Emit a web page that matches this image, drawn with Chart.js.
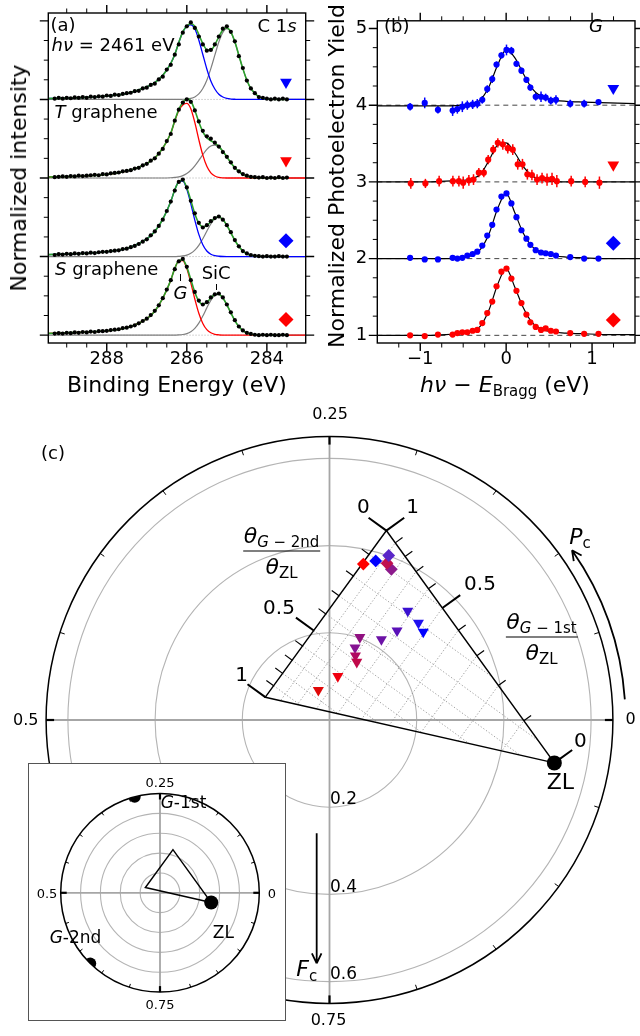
<!DOCTYPE html>
<html>
<head>
<meta charset="utf-8">
<title>C 1s XSW analysis</title>
<script src="https://cdn.jsdelivr.net/npm/chart.js@4.4.1/dist/chart.umd.min.js"></script>
<style>
  html, body { margin:0; padding:0; background:#fff; }
  #fig { position:relative; width:640px; height:1036px; overflow:hidden; font-family:'DejaVu Sans', sans-serif; color:#000; }
  #fig canvas { position:absolute; }
  .lbl { position:absolute; transform:translate(-50%,-50%); white-space:nowrap; line-height:1; }
  .lbl sub { font-size:0.68em; position:relative; top:0.3em; vertical-align:baseline; line-height:0; }
  .frac { display:flex; flex-direction:column; align-items:center; }
  .frac .num { border-bottom:1.5px solid #000; padding:0 1px 4px; }
  .frac .den { padding-top:4px; }
  .mark { position:absolute; width:1.2px; background:#000; }
  #inset { position:absolute; left:27.5px; top:763px; width:258px; height:258px; box-sizing:border-box; border:1.5px solid #555; background:#fff; }
</style>
</head>
<body>
<div id="fig">
  <canvas id="panelA" width="320" height="400" style="left:0;top:0"></canvas>
  <canvas id="panelB" width="320" height="400" style="left:320px;top:0"></canvas>
  <canvas id="panelC" width="640" height="636" style="left:0;top:400px"></canvas>
  <div id="inset"><canvas id="panelInset" width="255" height="255" style="left:0;top:0"></canvas></div>
</div>
<script>
Chart.defaults.font.family = "'DejaVu Sans', sans-serif";
Chart.defaults.color = '#000';

// ---- Panel (a): C 1s spectra (top to bottom) ----
const bindingEnergy = [289.3,289.2,289.1,289.0,288.9,288.8,288.7,288.6,288.5,288.4,288.3,288.2,288.1,288.0,287.9,287.8,287.7,287.6,287.5,287.4,
  287.3,287.2,287.1,287.0,286.9,286.8,286.7,286.6,286.5,286.4,286.3,286.2,286.1,286.0,285.9,285.8,285.7,285.6,285.5,285.4,
  285.3,285.2,285.1,285.0,284.9,284.8,284.7,284.6,284.5,284.4,284.3,284.2,284.1,284.0,283.9,283.8,283.7,283.6,283.5];
const c1sDots1 = [.01,.02,.01,.02,.015,.025,.02,.03,.02,.035, .03,.04,.035,.05,.045,.06,.055,.07,.08,.085,
  .105,.11,.14,.15,.185,.20,.255,.29,.38,.44, .57,.70,.85,.93,.98,.91,.80,.70,.62,.63,
  .70,.80,.90,.93,.86,.74,.55,.40,.24,.14, .08,.03,.02,.01,0,.01,0,.01,0];
const c1sDots2 = [.01,.015,.02,.015,.025,.02,.03,.025,.03,.035, .04,.035,.05,.045,.06,.065,.07,.085,.09,.10,
  .12,.13,.16,.18,.22,.25,.31,.37,.47,.56, .73,.87,.96,1.0,.97,.86,.72,.60,.53,.50,
  .45,.40,.33,.27,.20,.13,.085,.05,.03,.015, .01,.005,.01,0,.005,0,.01,0,.005];
const c1sDots3 = [.02,.03,.025,.035,.03,.04,.035,.045,.04,.05, .045,.055,.06,.06,.07,.075,.08,.095,.10,.12,
  .135,.16,.19,.22,.27,.32,.39,.47,.58,.70, .84,.95,.98,.88,.71,.55,.43,.37,.40,.45,
  .49,.51,.47,.40,.31,.21,.13,.07,.04,.02, .01,.005,0,.005,0,0,.005,0,0];
const c1sDots4 = [.02,.025,.02,.03,.025,.035,.03,.04,.035,.045, .04,.05,.05,.055,.065,.07,.075,.09,.095,.11,
  .125,.15,.18,.21,.255,.31,.38,.47,.58,.70, .84,.94,.97,.87,.70,.55,.44,.39,.42,.48,
  .52,.53,.48,.39,.29,.19,.11,.06,.03,.015, .005,0,.005,0,.005,0,0,.005,0];

const bindingEnergyFit = [289.46,289.0,288.5,288.0,287.5,287.0,286.8,286.6,286.4,286.3,286.2,286.1,286.0,285.9,285.8,285.7,285.6,
  285.5,285.4,285.3,285.2,285.1,285.0,284.9,284.8,284.7,284.6,284.5,284.4,284.2,284.0,283.5,283.03];
const c1sFit1 = [.012,.016,.026,.043,.077,.16,.215,.306,.46,.572,.725,.86,.935,.963,.932,.826,.711,.633,.627,.696,.797,.885,.912,.859,.733,.563,.392,.245,.139,.032,.005,0,0];
const c1sG1   = [.012,.016,.026,.043,.077,.16,.215,.306,.46,.572,.725,.858,.93,.95,.90,.756,.572,.388,.235,.133,.066,.031,.012,.005,.002,0,0,0,0,0,0,0,0];
const c1sSiC1 = [0,0,0,0,0,0,0,0,0,0,0,.002,.005,.013,.032,.07,.139,.245,.392,.563,.731,.854,.90,.854,.731,.563,.392,.245,.139,.032,.005,0,0];
const c1sFit2 = [.013,.018,.028,.046,.088,.185,.255,.38,.573,.732,.874,.96,1.007,.98,.862,.712,.588,.514,.474,.444,.403,.342,.269,.194,.131,.081,.045,.023,.011,.002,0,0,0];
const c1sG2   = [.013,.018,.028,.046,.088,.185,.255,.38,.57,.725,.86,.93,.95,.882,.707,.488,.291,.149,.066,.025,.008,.002,0,0,0,0,0,0,0,0,0,0,0];
const c1sSiC2 = [0,0,0,0,0,0,0,0,.003,.007,.014,.03,.057,.098,.155,.224,.297,.365,.408,.419,.395,.34,.269,.194,.131,.081,.045,.023,.011,.002,0,0,0];
const c1sFit3 = [.025,.033,.043,.062,.105,.225,.32,.475,.70,.85,.953,.968,.875,.714,.546,.425,.378,.394,.444,.491,.504,.471,.398,.303,.208,.129,.072,.036,.016,.002,0,0,0];
const c1sG3   = [.025,.033,.043,.062,.105,.225,.32,.475,.70,.85,.95,.96,.856,.672,.464,.282,.151,.071,.03,.011,.004,.001,0,0,0,0,0,0,0,0,0,0,0];
const c1sSiC3 = [0,0,0,0,0,0,0,0,0,0,.003,.008,.019,.042,.082,.143,.227,.323,.414,.48,.50,.47,.398,.303,.208,.129,.072,.036,.016,.002,0,0,0];
const c1sFit4 = [.022,.03,.04,.055,.095,.21,.305,.47,.70,.85,.948,.958,.866,.708,.545,.431,.392,.417,.473,.517,.521,.474,.388,.284,.186,.109,.057,.027,.011,.001,0,0,0];
const c1sG4   = [.022,.03,.04,.055,.095,.21,.305,.47,.70,.85,.945,.95,.847,.665,.46,.279,.149,.07,.03,.011,.004,.001,0,0,0,0,0,0,0,0,0,0,0];
const c1sSiC4 = [0,0,0,0,0,0,0,0,0,0,.003,.008,.019,.043,.085,.152,.243,.347,.443,.506,.517,.473,.388,.284,.186,.109,.057,.027,.011,.001,0,0,0];

const spectrumOffsets = [3, 2, 1, 0];
const spectrumColors = ['#0000ff', '#ff0000', '#0000ff', '#ff0000'];
const spectrumSymbols = ['triangle', 'triangle', 'rectRot', 'rectRot'];

const xMajorA = [284, 286, 288];
const xMinorA = [283.5, 284.5, 285, 285.5, 286.5, 287, 287.5, 288.5, 289];
const yMajorA = [0, 1, 2, 3, 4];
const yMinorA = [0.25,0.5,0.75,1.25,1.5,1.75,2.25,2.5,2.75,3.25,3.5,3.75];

// ---- Panel (b): G photoelectron yield vs hv - E_Bragg ----
const braggX1 = [-1.118,-0.948,-0.794,-0.623,-0.568,-0.51,-0.452,-0.39,-0.336,-0.278,-0.22,-0.162,-0.112,-0.055,0.004,0.061,0.12,0.178,0.236,0.282,0.344,0.406,0.46,0.52,0.58,0.746,0.908,1.075];
const braggX2 = [-1.11,-0.94,-0.78,-0.62,-0.55,-0.5,-0.434,-0.38,-0.318,-0.26,-0.209,-0.151,-0.097,-0.039,0.019,0.077,0.135,0.19,0.247,0.30,0.36,0.418,0.476,0.534,0.59,0.757,0.92,1.086];
const yield1 = [0.98,1.03,0.94,0.93,0.95,0.98,1.0,1.01,1.02,1.07,1.21,1.34,1.53,1.65,1.72,1.71,1.54,1.45,1.33,1.23,1.11,1.11,1.10,1.06,1.07,1.02,1.02,1.04];
const yieldErr1 = [.05,.07,.05,.07,.06,.07,.06,.06,.06,.05,.05,.05,.04,.04,.07,.05,.04,.04,.04,.04,.05,.07,.05,.05,.06,.05,.05,.03];
const yield2 = [0.98,0.98,1.01,1.01,1.01,0.99,1.02,1.03,1.12,1.12,1.29,1.42,1.51,1.49,1.44,1.42,1.23,1.23,1.10,1.09,1.03,1.05,1.03,1.04,1.01,1.01,1.0,0.99];
const yieldErr2 = [.07,.06,.07,.07,.07,.08,.07,.07,.06,.06,.06,.06,.06,.07,.07,.07,.07,.07,.07,.07,.07,.07,.08,.08,.08,.07,.07,.08];
const yield3 = [1.01,0.99,0.99,1.01,1.0,1.01,1.04,1.06,1.09,1.17,1.30,1.44,1.64,1.81,1.85,1.72,1.54,1.37,1.26,1.18,1.11,1.08,1.07,1.06,1.04,1.02,1.0,1.0];
const yieldErr3 = [.02,.02,.02,.03,.02,.02,.02,.02,.02,.02,.02,.03,.02,.02,.02,.02,.02,.02,.02,.02,.03,.02,.02,.02,.02,.02,.02,.02];
const yield4 = [1.0,0.99,1.01,1.01,1.03,1.04,1.04,1.06,1.07,1.16,1.29,1.44,1.64,1.83,1.87,1.74,1.58,1.42,1.27,1.17,1.11,1.07,1.09,1.06,1.05,1.03,1.02,1.02];
const yieldErr4 = [.02,.02,.02,.02,.02,.02,.02,.02,.02,.02,.02,.02,.02,.03,.02,.02,.02,.02,.03,.02,.02,.02,.02,.02,.02,.02,.02,.02];
const braggXFit = [-1.5,-1.2,-0.9,-0.7,-0.5,-0.4,-0.3,-0.2,-0.1,0,0.1,0.2,0.3,0.4,0.5,0.7,0.9,1.2,1.5];
const yieldFit1 = [0.99,0.99,0.99,0.99,1.0,1.02,1.07,1.24,1.52,1.72,1.62,1.41,1.22,1.12,1.08,1.05,1.04,1.03,1.02];
const yieldFit2 = [1.0,1.0,1.0,1.01,1.02,1.04,1.1,1.28,1.48,1.51,1.38,1.2,1.08,1.03,1.01,1.0,1.0,1.0,1.0];
const yieldFit3 = [1.0,1.0,1.0,1.0,1.01,1.04,1.12,1.32,1.65,1.85,1.6,1.33,1.16,1.09,1.05,1.02,1.01,1.0,1.0];
const yieldFit4 = [1.0,1.0,1.0,1.01,1.03,1.05,1.12,1.33,1.66,1.87,1.63,1.36,1.17,1.09,1.05,1.03,1.02,1.01,1.01];

const xMajorB = [-1, 0, 1];
const xMinorB = [-1.25,-0.75,-0.5,-0.25,0.25,0.5,0.75,1.25];
const yMajorB = [1, 2, 3, 4, 5];
const yMinorB = [1.25,1.5,1.75,2.25,2.5,2.75,3.25,3.5,3.75,4.25,4.5,4.75];

// ---- Panel (c): coherent fraction F_c (radius) and position P_c (angle) ----
const componentNames = ['ZL', 'G-1st', 'G-2nd'];
const componentFc = [0.525, 1, 1];
const componentPc = [0.970, 0.291, 0.626];
const diamondFc = [0.366, 0.380, 0.3735, 0.383, 0.401];
const diamondPc = [0.216, 0.205, 0.188, 0.194, 0.195];
const diamondColors = ['#ff0000', '#0000ff', '#8c1a8c', '#c0104e', '#5a26c8'];
const triangleFc = [0.308, 0.302, 0.295, 0.257, 0.220, 0.202, 0.176, 0.159, 0.147, 0.102, 0.073];
const trianglePc = [0.151, 0.132, 0.120, 0.147, 0.159, 0.194, 0.196, 0.189, 0.180, 0.220, 0.307];
const triangleColors = ['#3a10d0', '#2010f0', '#0000ff', '#5a10b8', '#6c12a6', '#901080', '#861392', '#b00a60', '#c0084a', '#f00010', '#e00808'];
const ringsMain = [0.2, 0.4, 0.6];
const ringsInset = [0.2, 0.4, 0.6, 0.8];
const phaseTicks = [0,0.05,0.1,0.15,0.2,0.25,0.3,0.35,0.4,0.45,0.5,0.55,0.6,0.65,0.7,0.75,0.8,0.85,0.9,0.95];
const phaseMajor = [0, 0.25, 0.5, 0.75];
const ratioTicks = [0,0.1,0.2,0.3,0.4,0.5,0.6,0.7,0.8,0.9,1];
const ratioMajor = [0, 0.5, 1];

// ---- helpers ----
const TAU = 2 * Math.PI;
const toXY = (fc, pc) => ({x: fc * Math.cos(TAU * pc), y: fc * Math.sin(TAU * pc)});
const [zlXY, g1XY, g2XY] = componentFc.map((f, i) => toXY(f, componentPc[i]));
// (ZL + a*G1 + b*G2)/(1+a+b), a = theta_G1/theta_ZL, b = theta_G2/theta_ZL
function mixPoint(a, b) {
  const w = 1 + a + b;
  return {x: (zlXY.x + a * g1XY.x + b * g2XY.x) / w, y: (zlXY.y + a * g1XY.y + b * g2XY.y) / w};
}
const triangleOutline = [mixPoint(0, 0), mixPoint(1, 0), mixPoint(1, 1), mixPoint(0, 0)];

function boxTicks(t) {
  return {
    id: 'boxTicks',
    afterDraw(chart) {
      const {ctx, chartArea: a, scales: {x, y}} = chart;
      ctx.save();
      ctx.strokeStyle = '#000';
      ctx.lineWidth = 1.4;
      ctx.strokeRect(a.left, a.top, a.right - a.left, a.bottom - a.top);
      const marks = (vals, len, w, horiz) => {
        ctx.lineWidth = w;
        ctx.beginPath();
        vals.forEach(v => {
          if (horiz) {
            const p = x.getPixelForValue(v);
            ctx.moveTo(p, a.bottom); ctx.lineTo(p, a.bottom + len);
            ctx.moveTo(p, a.top); ctx.lineTo(p, a.top - len);
          } else {
            const p = y.getPixelForValue(v);
            ctx.moveTo(a.left, p); ctx.lineTo(a.left - len, p);
            ctx.moveTo(a.right, p); ctx.lineTo(a.right + len, p);
          }
        });
        ctx.stroke();
      };
      marks(t.xMajor, 8, 1.4, true); marks(t.xMinor, 4.5, 1, true);
      marks(t.yMajor, 8.5, 1.4, false); marks(t.yMinor, 4.5, 1, false);
      ctx.restore();
    }
  };
}

function levelLines(levels, color, dash, width) {
  return {
    id: 'levelLines',
    beforeDatasetsDraw(chart) {
      const {ctx, chartArea: a, scales: {y}} = chart;
      ctx.save();
      ctx.strokeStyle = color; ctx.lineWidth = width; ctx.setLineDash(dash);
      levels.forEach(v => {
        const p = y.getPixelForValue(v);
        ctx.beginPath(); ctx.moveTo(a.left, p); ctx.lineTo(a.right, p); ctx.stroke();
      });
      ctx.restore();
    }
  };
}

// legend-like symbol at the right end of each stacked curve
function sideSymbols(levels, fromRight) {
  return {
    id: 'sideSymbols',
    afterDatasetsDraw(chart) {
      const {ctx, chartArea: a, scales: {y}} = chart;
      ctx.save();
      levels.forEach((v, i) => {
        const tri = spectrumSymbols[i] === 'triangle';
        ctx.fillStyle = spectrumColors[i];
        Chart.helpers.drawPoint(ctx, {pointStyle: spectrumSymbols[i], rotation: tri ? 180 : 0, radius: tri ? 6.8 : 7.5, borderWidth: 0},
          a.right - fromRight, y.getPixelForValue(v + (tri ? 0.22 : 0.2)));
      });
      ctx.restore();
    }
  };
}

const errorBars = {
  id: 'errorBars',
  beforeDatasetsDraw(chart) {
    const {ctx, scales: {y}} = chart;
    chart.data.datasets.forEach((ds, i) => {
      if (!ds.errorBars) return;
      const meta = chart.getDatasetMeta(i);
      ctx.save();
      ctx.strokeStyle = ds.backgroundColor; ctx.lineWidth = 1.5;
      meta.data.forEach((pt, j) => {
        const v = ds.data[j].y, e = ds.errorBars[j];
        ctx.beginPath();
        ctx.moveTo(pt.x, y.getPixelForValue(v - e));
        ctx.lineTo(pt.x, y.getPixelForValue(v + e));
        ctx.stroke();
      });
      ctx.restore();
    });
  }
};

const pts = (xs, ys, off) => xs.map((x, j) => ({x, y: ys[j] + off}));
const lineDs = (data, color, width, order) => ({data, borderColor: color, borderWidth: width, showLine: true,
  pointRadius: 0, pointHoverRadius: 0, cubicInterpolationMode: 'monotone', order});

// ---- Panel (a) chart ----
const c1sDots = [c1sDots1, c1sDots2, c1sDots3, c1sDots4];
const c1sFit = [c1sFit1, c1sFit2, c1sFit3, c1sFit4];
const c1sG = [c1sG1, c1sG2, c1sG3, c1sG4];
const c1sSiC = [c1sSiC1, c1sSiC2, c1sSiC3, c1sSiC4];
const datasetsA = [];
spectrumOffsets.forEach((off, i) => {
  datasetsA.push(
    lineDs(pts(bindingEnergyFit, c1sSiC[i], off), '#7f7f7f', 1.2, 4),
    lineDs(pts(bindingEnergyFit, c1sG[i], off), spectrumColors[i], 1.3, 3),
    // total fit stops at the last measured point
    lineDs(pts(bindingEnergyFit.slice(0, -1), c1sFit[i], off), '#2ca02c', 1.6, 2),
    {data: pts(bindingEnergy, c1sDots[i], off), pointRadius: 2.1, pointHoverRadius: 0, backgroundColor: '#000', borderWidth: 0, order: 1}
  );
});

new Chart(document.getElementById('panelA'), {
  type: 'scatter',
  data: {datasets: datasetsA},
  options: {
    responsive: false, animation: false, devicePixelRatio: 1, events: [],
    layout: {autoPadding: false, padding: {top: 13, right: 14.3, left: 0, bottom: 0}},
    plugins: {legend: {display: false}, tooltip: {enabled: false}},
    scales: {
      x: {type: 'linear', reverse: true, min: 283.03, max: 289.46,
        afterBuildTicks: s => { s.ticks = xMajorA.map(v => ({value: v})); },
        ticks: {font: {size: 18}, padding: 6, maxRotation: 0, autoSkip: false},
        grid: {display: false, drawTicks: false}, border: {display: false},
        afterFit: s => { s.height = 57; }},
      y: {min: -0.1, max: 4.1, ticks: {display: false},
        grid: {display: false, drawTicks: false}, border: {display: false},
        afterFit: s => { s.width = 48.3; }}
    }
  },
  plugins: [levelLines(spectrumOffsets, '#c8c8c8', [1.5, 1.5], 1), sideSymbols(spectrumOffsets, 19.7),
    boxTicks({xMajor: xMajorA, xMinor: xMinorA, yMajor: yMajorA, yMinor: yMinorA})]
});

// ---- Panel (b) chart ----
const braggX = [braggX1, braggX2, braggX1, braggX1];
const yields = [yield1, yield2, yield3, yield4];
const yieldErrs = [yieldErr1, yieldErr2, yieldErr3, yieldErr4];
const yieldFits = [yieldFit1, yieldFit2, yieldFit3, yieldFit4];
const datasetsB = [];
spectrumOffsets.forEach((off, i) => {
  datasetsB.push(
    lineDs(pts(braggXFit, yieldFits[i], off), '#000', 1.2, 2),
    {data: pts(braggX[i], yields[i], off), errorBars: yieldErrs[i], pointRadius: 3.1, pointHoverRadius: 0,
      backgroundColor: spectrumColors[i], borderWidth: 0, order: 1}
  );
});

new Chart(document.getElementById('panelB'), {
  type: 'scatter',
  data: {datasets: datasetsB},
  options: {
    responsive: false, animation: false, devicePixelRatio: 1, events: [],
    layout: {autoPadding: false, padding: {top: 13, right: 5, left: 0, bottom: 0}},
    plugins: {legend: {display: false}, tooltip: {enabled: false}},
    scales: {
      x: {type: 'linear', min: -1.5, max: 1.5,
        afterBuildTicks: s => { s.ticks = xMajorB.map(v => ({value: v})); },
        ticks: {font: {size: 18}, padding: 6, maxRotation: 0, autoSkip: false,
          callback: v => v < 0 ? '\u2212' + Math.abs(v) : String(v)},
        grid: {display: false, drawTicks: false}, border: {display: false},
        afterFit: s => { s.height = 57; }},
      y: {min: 0.9, max: 5.1,
        afterBuildTicks: s => { s.ticks = yMajorB.map(v => ({value: v})); },
        ticks: {font: {size: 18}, padding: 10},
        grid: {display: false, drawTicks: false}, border: {display: false},
        afterFit: s => { s.width = 57.3; }}
    }
  },
  plugins: [levelLines(spectrumOffsets.map(o => o + 1), '#444', [5, 4], 1), errorBars, sideSymbols(spectrumOffsets.map(o => o + 1), 21.7),
    boxTicks({xMajor: xMajorB, xMinor: xMinorB, yMajor: yMajorB, yMinor: yMinorB})]
});

// ---- Panel (c): polar plot ----
function polarRange(w, h, cx, cy, ppu) {
  return {x: {min: -cx / ppu, max: (w - cx) / ppu}, y: {min: -(h - cy) / ppu, max: cy / ppu}};
}

function polarFrame(cfg) {
  return {
    id: 'polarFrame',
    beforeDatasetsDraw(chart) {
      const {ctx, scales: {x: sx, y: sy}} = chart;
      const P = v => [sx.getPixelForValue(v.x), sy.getPixelForValue(v.y)];
      const ox = sx.getPixelForValue(0), oy = sy.getPixelForValue(0);
      const kx = sx.getPixelForValue(1) - ox, ky = oy - sy.getPixelForValue(1);
      const R = cfg.outer;
      ctx.save();
      ctx.strokeStyle = '#b4b4b4'; ctx.lineWidth = 1.1;
      cfg.rings.forEach(r => { ctx.beginPath(); ctx.ellipse(ox, oy, kx * r, ky * r, 0, 0, TAU); ctx.stroke(); });
      ctx.strokeStyle = '#a6a6a6'; ctx.lineWidth = 1.8;
      ctx.beginPath();
      ctx.moveTo(ox - kx * R, oy); ctx.lineTo(ox + kx * R, oy);
      ctx.moveTo(ox, oy - ky * R); ctx.lineTo(ox, oy + ky * R);
      ctx.stroke();

      if (cfg.triangleAxes) {
        const T = P(mixPoint(1, 0)), L = P(mixPoint(1, 1)), Z = P(mixPoint(0, 0));
        const outward = (a, b, away) => {
          const dx = b[0] - a[0], dy = b[1] - a[1], n = Math.hypot(dx, dy);
          let nx = -dy / n, ny = dx / n;
          if ((away[0] - a[0]) * nx + (away[1] - a[1]) * ny > 0) { nx = -nx; ny = -ny; }
          return [nx, ny];
        };
        const nL = outward(T, L, Z), nR = outward(T, Z, L);
        const eL = Math.hypot(L[0] - T[0], L[1] - T[1]);
        const dL = [(L[0] - T[0]) / eL, (L[1] - T[1]) / eL];
        // dotted grid, clipped to the triangle
        ctx.save();
        ctx.beginPath(); ctx.moveTo(...Z); ctx.lineTo(...T); ctx.lineTo(...L); ctx.closePath(); ctx.clip();
        ctx.strokeStyle = '#8c8c8c'; ctx.lineWidth = 0.8; ctx.setLineDash([1.3, 2]);
        ratioTicks.slice(1, -1).forEach(v => {
          const pl = P(mixPoint(1, v)), pr = P(mixPoint(v, 0));
          ctx.beginPath();
          ctx.moveTo(...pl); ctx.lineTo(pl[0] - nL[0] * 500, pl[1] - nL[1] * 500);
          ctx.moveTo(pr[0] - dL[0] * 500, pr[1] - dL[1] * 500); ctx.lineTo(pr[0] + dL[0] * 500, pr[1] + dL[1] * 500);
          ctx.stroke();
        });
        ctx.restore();
        // edge ticks
        ctx.strokeStyle = '#000';
        ratioTicks.forEach(v => {
          const big = ratioMajor.includes(v), len = big ? 22 : 9;
          ctx.lineWidth = big ? 2 : 1.2;
          const pl = P(mixPoint(1, v)), pr = P(mixPoint(v, 0));
          ctx.beginPath();
          ctx.moveTo(...pl); ctx.lineTo(pl[0] + nL[0] * len, pl[1] + nL[1] * len);
          ctx.moveTo(...pr); ctx.lineTo(pr[0] + nR[0] * len, pr[1] + nR[1] * len);
          ctx.stroke();
        });
      }

      ctx.strokeStyle = '#000'; ctx.lineWidth = 1.5;
      ctx.beginPath(); ctx.ellipse(ox, oy, kx * R, ky * R, 0, 0, TAU); ctx.stroke();
      phaseTicks.forEach(p => {
        const big = phaseMajor.includes(p), len = big ? cfg.majorLen : cfg.minorLen;
        const c = Math.cos(TAU * p), s = Math.sin(TAU * p);
        ctx.lineWidth = big ? 2.2 : 1;
        ctx.beginPath();
        ctx.moveTo(ox + kx * R * c, oy - ky * R * s);
        ctx.lineTo(ox + (kx * R - len) * c, oy - (ky * R - len) * s);
        ctx.stroke();
      });
      ctx.restore();
    },
    afterDatasetsDraw(chart) {
      if (!cfg.arrows) return;
      const {ctx, scales: {x: sx, y: sy}} = chart;
      const ox = sx.getPixelForValue(0), oy = sy.getPixelForValue(0);
      const kx = sx.getPixelForValue(1) - ox, ky = oy - sy.getPixelForValue(1);
      const head = (tx, ty, bx, by) => {   // open arrow head, (bx,by) = unit vector pointing back
        [0.45, -0.45].forEach(a => {
          const c = Math.cos(a), s = Math.sin(a);
          ctx.moveTo(tx, ty);
          ctx.lineTo(tx + 11 * (bx * c - by * s), ty + 11 * (bx * s + by * c));
        });
      };
      ctx.save();
      ctx.strokeStyle = '#000'; ctx.lineWidth = 1.8;
      // P_c: counter-clockwise arc outside the frame
      const ra = 0.679, a0 = 4 * Math.PI / 180, a1 = 35 * Math.PI / 180;
      ctx.beginPath();
      ctx.ellipse(ox, oy, kx * ra, ky * ra, 0, -a1, -a0);
      head(ox + kx * ra * Math.cos(a1), oy - ky * ra * Math.sin(a1), Math.sin(a1), Math.cos(a1));
      ctx.stroke();
      // F_c: downward arrow along the radius
      const fx = ox - 0.0294 * kx, f0 = oy + 0.26 * ky, f1 = oy + 0.558 * ky;
      ctx.beginPath();
      ctx.moveTo(fx, f0); ctx.lineTo(fx, f1);
      head(fx, f1, 0, -1);
      ctx.stroke();
      ctx.restore();
    }
  };
}

function clipToCircle(indices, r) {
  return {
    id: 'clipToCircle',
    beforeDatasetDraw(chart, args) {
      if (!indices.includes(args.index)) return;
      const {ctx, scales: {x: sx, y: sy}} = chart;
      const ox = sx.getPixelForValue(0), oy = sy.getPixelForValue(0);
      ctx.save();
      ctx.beginPath();
      ctx.ellipse(ox, oy, sx.getPixelForValue(r) - ox, oy - sy.getPixelForValue(r), 0, 0, TAU);
      ctx.clip();
    },
    afterDatasetDraw(chart, args) {
      if (indices.includes(args.index)) chart.ctx.restore();
    }
  };
}

const polarOpts = range => ({
  responsive: false, animation: false, devicePixelRatio: 1, events: [],
  layout: {autoPadding: false, padding: 0},
  plugins: {legend: {display: false}, tooltip: {enabled: false}},
  scales: {
    x: {type: 'linear', display: false, min: range.x.min, max: range.x.max},
    y: {type: 'linear', display: false, min: range.y.min, max: range.y.max}
  }
});

new Chart(document.getElementById('panelC'), {
  type: 'scatter',
  data: {datasets: [
    {data: triangleOutline, showLine: true, borderColor: '#000', borderWidth: 1.5, pointRadius: 0, pointHoverRadius: 0, order: 5},
    {data: diamondFc.map((f, i) => toXY(f, diamondPc[i])), pointStyle: 'rectRot', pointRadius: 6.4, pointHoverRadius: 0,
      backgroundColor: diamondColors, borderWidth: 0, order: 3},
    {data: triangleFc.map((f, i) => toXY(f, trianglePc[i])), pointStyle: 'triangle', pointRotation: 180, pointRadius: 6.4,
      pointHoverRadius: 0, backgroundColor: triangleColors, borderWidth: 0, order: 2},
    {data: [zlXY], pointRadius: 7.5, pointHoverRadius: 0, backgroundColor: '#000', borderWidth: 0, order: 1}
  ]},
  options: polarOpts(polarRange(640, 636, 329.5, 320, 436)),
  plugins: [polarFrame({rings: ringsMain, outer: 0.65, majorLen: 8, minorLen: 5, triangleAxes: true, arrows: true})]
});

new Chart(document.getElementById('panelInset'), {
  type: 'scatter',
  data: {datasets: [
    {data: triangleOutline, showLine: true, borderColor: '#000', borderWidth: 1.5, pointRadius: 0, pointHoverRadius: 0, order: 3},
    {data: [zlXY], pointRadius: 7, pointHoverRadius: 0, backgroundColor: '#000', borderWidth: 0, order: 2},
    {data: [g1XY, g2XY], pointRadius: 6, pointHoverRadius: 0, backgroundColor: '#000', borderWidth: 0, order: 1}
  ]},
  options: polarOpts(polarRange(255, 255, 131, 128.8, 99.3)),
  plugins: [polarFrame({rings: ringsInset, outer: 1, majorLen: 6, minorLen: 3.5}), clipToCircle([2], 1)]
});

// ---- text ----
const fracG2 = '<div class="frac"><span class="num"><i>θ</i><sub><i>G</i> − 2nd</sub></span><span class="den"><i>θ</i><sub>ZL</sub></span></div>';
const fracG1 = '<div class="frac"><span class="num"><i>θ</i><sub><i>G</i> − 1st</sub></span><span class="den"><i>θ</i><sub>ZL</sub></span></div>';
const textLabels = [
  ['(a)', 63, 25, 18], ['C 1<i>s</i>', 277, 26, 18], ['<i>hν</i> = 2461 eV', 113, 44.5, 18],
  ['<i>T</i> graphene', 106, 111.7, 18], ['<i>S</i> graphene', 106.7, 269, 18],
  ['<i>G</i>', 180.5, 293, 18], ['SiC', 216.2, 272.5, 18],
  ['Binding Energy (eV)', 177, 385, 22], ['Normalized intensity', 19, 178, 22, -90],
  ['(b)', 396.7, 25.7, 18], ['<i>G</i>', 596, 25.7, 18],
  ['<i>hν</i> − <i>E</i><sub>Bragg</sub> (eV)', 505, 385, 22], ['Normalized Photoelectron Yield', 337, 176, 22, -90],
  ['(c)', 53, 453, 18], ['0.25', 330, 414, 16], ['0.5', 25.8, 720, 16], ['0', 630.5, 719, 16], ['0.75', 328.5, 1020, 16],
  [fracG2, 281.5, 551, 22], [fracG1, 541.5, 637, 22],
  ['0.5', 279, 606.7, 20], ['1', 241.7, 674.3, 20], ['0', 363.3, 506, 20], ['1', 412.5, 506, 20], ['0.5', 480, 583, 20],
  ['0', 580.3, 740, 20], ['ZL', 560.3, 781.7, 22], ['<i>P</i><sub>c</sub>', 580, 537, 22], ['<i>F</i><sub>c</sub>', 306.7, 969.3, 22],
  ['0.2', 343.5, 798.3, 17], ['0.4', 343.5, 886, 17], ['0.6', 343.5, 973.3, 17],
  ['0.25', 160, 781.7, 13], ['0', 272, 893.3, 13], ['0.5', 47, 893.3, 13], ['0.75', 160, 1004, 13],
  ['<i>G</i>-1st', 183.5, 801.7, 17], ['<i>G</i>-2nd', 75.5, 936.7, 17], ['ZL', 223.3, 931.7, 17]
];
const fig = document.getElementById('fig');
textLabels.forEach(([html, cx, cy, size, rot]) => {
  const d = document.createElement('div');
  d.className = 'lbl';
  d.innerHTML = html;
  d.style.left = cx + 'px'; d.style.top = cy + 'px'; d.style.fontSize = size + 'px';
  if (rot) d.style.transform = `translate(-50%,-50%) rotate(${rot}deg)`;
  fig.appendChild(d);
});
// small pointer lines under the G and SiC labels
[[180, 274.3, 6.4], [216, 284, 6]].forEach(([x, y, h]) => {
  const m = document.createElement('div');
  m.className = 'mark';
  m.style.left = x + 'px'; m.style.top = y + 'px'; m.style.height = h + 'px';
  fig.appendChild(m);
});
</script>
</body>
</html>
